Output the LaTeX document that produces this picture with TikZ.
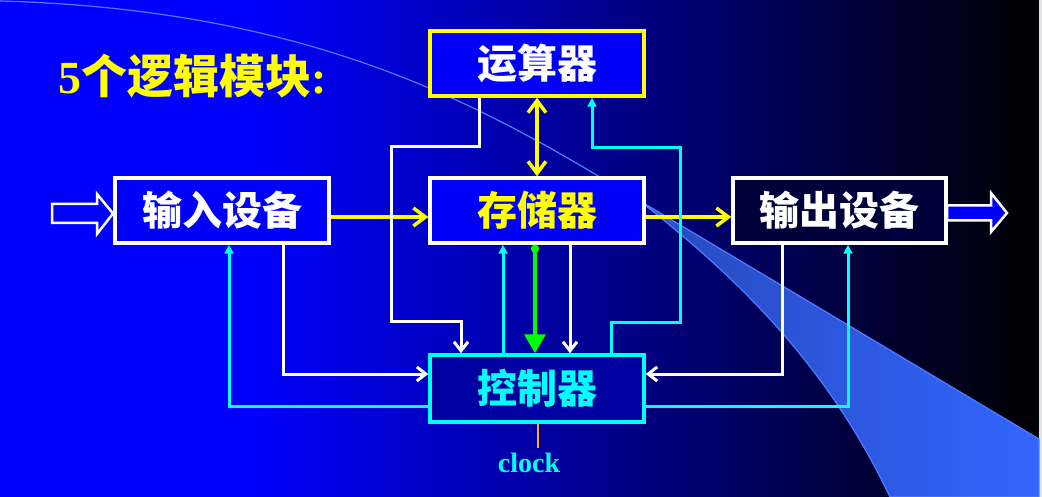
\documentclass[tikz,border=0pt]{standalone}
\usepackage{fontspec}
\setmainfont{Liberation Serif}
\newfontfamily\cjk{Noto Sans CJK SC}
\usetikzlibrary{arrows.meta}

% colours
\definecolor{cyanc}{RGB}{0,255,255}
\definecolor{yelc}{RGB}{255,255,0}
\definecolor{greenc}{RGB}{0,255,0}
\definecolor{orangec}{RGB}{255,170,0}
\definecolor{boxblue}{RGB}{0,0,250}
\definecolor{ctlfill}{RGB}{0,0,160}
\definecolor{outfill}{RGB}{0,0,58}
\definecolor{beamlight}{RGB}{72,112,255}
\definecolor{beamdark}{RGB}{40,76,195}
\definecolor{beamfar}{RGB}{51,102,255}
\definecolor{beamedge}{RGB}{80,125,255}

% backdrop: blue on the left fading to black on the right
\pgfdeclarehorizontalshading{backdrop}{100bp}{%
  color(0bp)=(blue); color(25bp)=(blue); color(37bp)=(blue);
  color(75bp)=(black); color(100bp)=(black)}
% light beam sweeping across the backdrop
\pgfdeclarehorizontalshading{beam}{100bp}{%
  color(0bp)=(beamlight); color(54bp)=(beamlight); color(58bp)=(beamdark);
  color(75bp)=(beamfar); color(100bp)=(beamfar)}

\tikzset{
  unit/.style={minimum width=214pt, minimum height=65pt, inner sep=0pt,
    line width=3.5pt, font=\cjk\bfseries\fontsize{40}{40}\selectfont},
  yarrow/.style={draw=yelc, line width=3.5pt,
    -{Straight Barb[length=12pt,width=18pt]}},
  ydouble/.style={draw=yelc, line width=3.5pt,
    {Straight Barb[length=12pt,width=18pt]}-{Straight Barb[length=12pt,width=18pt]}},
  wline/.style={draw=white, line width=3pt,
    -{Straight Barb[length=9pt,width=14pt]}},
  cline/.style={draw=cyanc, line width=3pt,
    -{Triangle[length=9pt,width=9pt]}},
  gline/.style={draw=greenc, line width=4pt,
    {Circle[length=8pt]}-{Triangle[length=19pt,width=21pt]}},
  blockarrow/.style={draw=white, line width=2.5pt, line join=miter},
}

\begin{document}
\begin{tikzpicture}[x=1pt,y=-1pt]
\useasboundingbox (0,0) rectangle (1042,497);

% background and beam
\shade[shading=backdrop] (0,0) rectangle (1039,497);
\fill[gray!22] (1039,0) rectangle (1042,497);
\shadedraw[shading=beam, draw=beamedge, line width=1.2pt]
  (0,1) .. controls (330,10) and (500,117) .. (640,201)
  -- (1039,439) -- (1039,497) -- (890,497)
  .. controls (820,350) and (720,265) .. (640,201)
  .. controls (500,117) and (330,10) .. (0,1) -- cycle;

% heading
\node[anchor=base west, text=yelc, inner sep=0pt] (title) at (58,94)
  {\fontsize{46}{46}\selectfont\textbf{5}{\cjk\bfseries 个逻辑模块}\textbf{:}};

% the five units
\node[unit, draw=yelc, fill=boxblue, text=white] (alu) at (537,63.5) {运算器};
\node[unit, draw=white, fill=boxblue, text=white] (in) at (222,210.5) {输入设备};
\node[unit, draw=white, fill=boxblue, text=yelc] (mem) at (537,210.5) {存储器};
\node[unit, draw=white, fill=outfill, text=white, minimum width=213pt] (out) at (839.5,210.5) {输出设备};
\node[unit, draw=cyanc, fill=ctlfill, text=cyanc, minimum height=67pt] (ctl) at (537,388.5) {控制器};

% outside input / output
\filldraw[blockarrow, fill=blue]
  (52,204) -- (97,204) -- (97,194) -- (113,213.5) -- (97,234) -- (97,223) -- (52,223) -- cycle;
\filldraw[blockarrow, fill=boxblue]
  (947,205.5) -- (991,205.5) -- (991,193) -- (1007,213) -- (991,232) -- (991,220.5) -- (947,220.5) -- cycle;

% data paths
\coordinate (dataY) at (0,217);
\draw[yarrow] (in.east |- dataY) -- (mem.west |- dataY);
\draw[yarrow] (mem.east |- dataY) -- (out.west |- dataY);
\draw[ydouble] (alu.south) -- (mem.north);

% alu -> controller (status)
\coordinate (aW0) at (479,147);
\coordinate (aW1) at (391,147);
\coordinate (aW2) at (391,321);
\coordinate (aW3) at (461,321);
\draw[wline] (alu.south -| aW0) -- (aW0) -- (aW1) -- (aW2) -- (aW3) -- (ctl.north -| aW3);

% controller -> alu (control)
\coordinate (aC0) at (611,322);
\coordinate (aC1) at (680,322);
\coordinate (aC2) at (680,148);
\coordinate (aC3) at (592,148);
\draw[cline] (ctl.north -| aC0) -- (aC0) -- (aC1) -- (aC2) -- (aC3) -- (alu.south -| aC3);

% memory <-> controller
\coordinate (mC) at (503,0);
\coordinate (mG) at (535,0);
\coordinate (mW) at (570,0);
\draw[cline] (ctl.north -| mC) -- (mem.south -| mC);
\draw[gline] (mem.south -| mG) -- (ctl.north -| mG);
\draw[wline] (mem.south -| mW) -- (ctl.north -| mW);

% input unit <-> controller
\coordinate (iW) at (283,374);
\coordinate (iC) at (229,406);
\draw[wline] (in.south -| iW) -- (iW) -- (ctl.west |- iW);
\draw[cline] (ctl.west |- iC) -- (iC) -- (in.south -| iC);

% output unit <-> controller
\coordinate (oW) at (782,374);
\coordinate (oC) at (848,406);
\draw[wline] (out.south -| oW) -- (oW) -- (ctl.east |- oW);
\draw[cline] (ctl.east |- oC) -- (oC) -- (out.south -| oC);

% clock input
\coordinate (clkpin) at (538,448);
\draw[draw=orangec, line width=2pt] (ctl.south -| clkpin) -- (clkpin);
\node[anchor=base, text=cyanc, inner sep=0pt, font=\bfseries\fontsize{28}{28}\selectfont] (clk) at (529,472) {clock};
\end{tikzpicture}
\end{document}
